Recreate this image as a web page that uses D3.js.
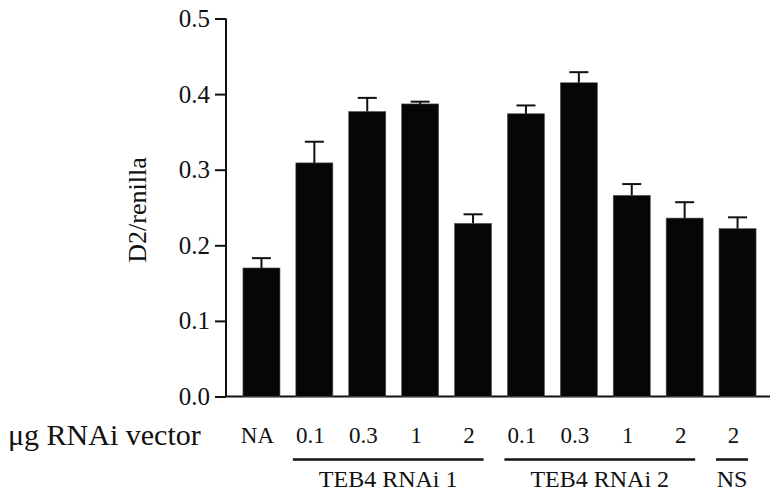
<!DOCTYPE html>
<html>
<head>
<meta charset="utf-8">
<script src="https://cdn.jsdelivr.net/npm/d3@7/dist/d3.min.js"></script>
<style>
  html, body { margin: 0; padding: 0; background: #fff; }
  svg { display: block; }
</style>
</head>
<body>
<svg id="chart" width="770" height="496"></svg>
<script>
// ---------- data ----------
var categories = ["NA", "0.1a", "0.3a", "1a", "2a", "0.1b", "0.3b", "1b", "2b", "2c"];
var catLabels = ["NA", "0.1", "0.3", "1", "2", "0.1", "0.3", "1", "2", "2"];
var values = [0.170, 0.309, 0.377, 0.387, 0.229, 0.374, 0.415, 0.266, 0.236, 0.222];
var errors = [0.013, 0.028, 0.018, 0.003, 0.012, 0.011, 0.014, 0.015, 0.021, 0.015];
var yTicks = [0.0, 0.1, 0.2, 0.3, 0.4, 0.5];
var groupNames = ["TEB4 RNAi 1", "TEB4 RNAi 2", "NS"];
var groupFirst = ["0.1a", "0.1b", "2c"];
var groupLast = ["2a", "2b", "2c"];

var SERIF = "Liberation Serif";

// ---------- scales ----------
var svg = d3.select("#chart");
var x = d3.scaleBand().domain(categories).range([235, 764]).paddingInner(0.3).paddingOuter(0.15);
var y = d3.scaleLinear().domain([0, 0.5]).range([396.5, 18.5]);
var bw = x.bandwidth();

// y axis
var yAxis = d3.axisLeft(y).tickValues(yTicks).tickFormat(d3.format(".1f")).tickSize(11).tickPadding(5);
var gy = svg.append("g").attr("transform", "translate(226,0)").call(yAxis).attr("font-family", SERIF);
gy.select(".domain").attr("stroke", "#111").attr("stroke-width", 2).attr("d", "M0," + y(0.5) + "V" + y(0));
gy.selectAll(".tick line").attr("stroke", "#111").attr("stroke-width", 2);
gy.selectAll(".tick text").attr("font-family", SERIF).attr("font-size", 25).attr("fill", "#111");

// baseline
svg.append("line").attr("x1", 225).attr("x2", 770).attr("y1", y(0)).attr("y2", y(0))
  .attr("stroke", "#111").attr("stroke-width", 2);

// y label
svg.append("text").attr("transform", "translate(146," + 210 + ") rotate(-90)")
  .attr("text-anchor", "middle").attr("font-family", SERIF).attr("font-size", 26).attr("fill", "#111").text("D2/renilla");

// ---------- bars ----------
svg.append("g").selectAll("rect").data(categories).enter().append("rect")
  .attr("x", function (d) { return x(d); })
  .attr("y", function (d, i) { return y(values[i]); })
  .attr("width", bw)
  .attr("height", function (d, i) { return y(0) - y(values[i]); })
  .attr("fill", "#060606").attr("stroke", "#555").attr("stroke-width", 0.6);

// error bars (upper only)
var eb = svg.append("g").attr("stroke", "#111").attr("stroke-width", 2);
categories.forEach(function (c, i) {
  var cx = x(c) + bw / 2, top = y(values[i] + errors[i]);
  eb.append("line").attr("x1", cx).attr("x2", cx).attr("y1", y(values[i])).attr("y2", top);
  eb.append("line").attr("x1", cx - 9.5).attr("x2", cx + 9.5).attr("y1", top).attr("y2", top);
});

// ---------- bottom labels ----------
svg.append("text").attr("x", 8).attr("y", 445).attr("font-family", SERIF).attr("font-size", 30).attr("fill", "#111").text("\u03bcg RNAi vector");
svg.append("g").selectAll("text").data(categories).enter().append("text")
  .attr("x", function (d) { return x(d) + bw / 2 - 4; })
  .attr("y", 443).attr("text-anchor", "middle").attr("font-family", SERIF).attr("font-size", 23).attr("fill", "#111")
  .text(function (d, i) { return catLabels[i]; });

groupNames.forEach(function (g, i) {
  var x1 = x(groupFirst[i]) - 3, x2 = x(groupLast[i]) + bw - 8;
  svg.append("line").attr("x1", x1).attr("x2", x2).attr("y1", 459.5).attr("y2", 459.5)
    .attr("stroke", "#111").attr("stroke-width", 2.5);
  svg.append("text").attr("x", (x1 + x2) / 2).attr("y", 487).attr("text-anchor", "middle")
    .attr("font-family", SERIF).attr("font-size", 24).attr("fill", "#111").text(g);
});
</script>
</body>
</html>
